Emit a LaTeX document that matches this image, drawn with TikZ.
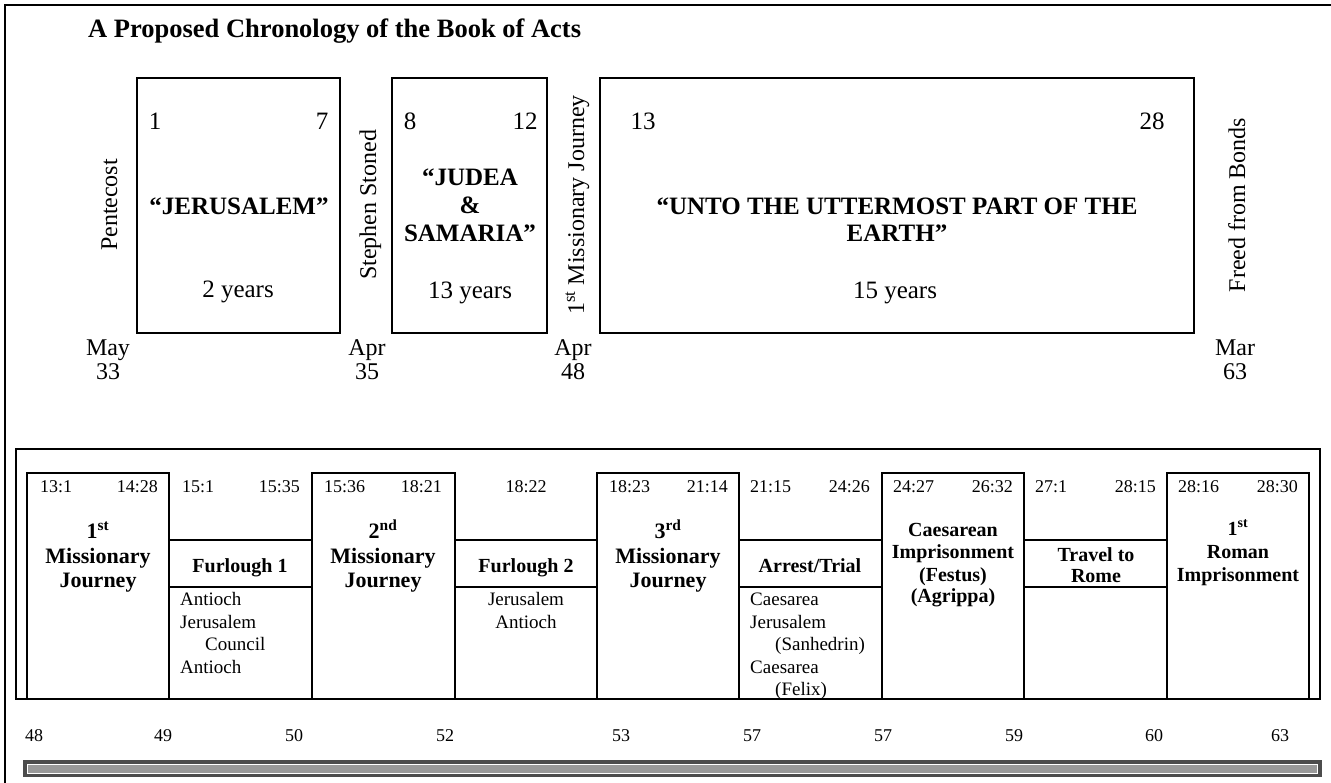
\documentclass[tikz,border=0pt]{standalone}
\usepackage{fontspec}
\setmainfont{Liberation Serif}
\begin{document}
\begin{tikzpicture}[x=1pt,y=-1pt,line join=miter,
  pageframe/.style={line width=2pt},
  bigbox/.style={draw,line width=1.8pt},
  cellbox/.style={draw,line width=1.8pt},
  septhick/.style={line width=1.8pt},
  septhin/.style={line width=1.1pt},
  title/.style={font=\bfseries\fontsize{26.5}{30}\selectfont,inner sep=0pt,anchor=base west},
  bignum/.style={font=\fontsize{25}{30}\selectfont,inner sep=0pt,anchor=base},
  bighead/.style={font=\bfseries\fontsize{25}{30}\selectfont,inner sep=0pt,anchor=base},
  side/.style={font=\fontsize{24}{28}\selectfont,inner sep=0pt,anchor=base,rotate=90},
  datelbl/.style={font=\fontsize{24}{28}\selectfont,inner sep=0pt,anchor=base},
  verse/.style={font=\fontsize{18}{22}\selectfont,inner sep=0pt},
  vleft/.style={verse,anchor=base west},
  vright/.style={verse,anchor=base east},
  vmid/.style={verse,anchor=base},
  head/.style={font=\bfseries\fontsize{20}{24}\selectfont,inner sep=0pt,anchor=base},
  mhead/.style={font=\bfseries\fontsize{22}{26}\selectfont,inner sep=0pt,anchor=base},
  place/.style={font=\fontsize{19}{23}\selectfont,inner sep=0pt,anchor=base west},
  placec/.style={font=\fontsize{19}{23}\selectfont,inner sep=0pt,anchor=base},
  year/.style={font=\fontsize{18}{22}\selectfont,inner sep=0pt,anchor=base},
]
\useasboundingbox (0,0) rectangle (1331,783);
% page frame (left and top only visible)
\draw[pageframe] (5,784) -- (5,5) -- (1332,5);
\node[title] (ttl) at (88,38) {A Proposed Chronology of the Book of Acts};

% ---- top boxes ----
\draw[bigbox] (137,78) rectangle (340,333);
\draw[bigbox] (392,78) rectangle (547,333);
\draw[bigbox] (600,78) rectangle (1194,333);

\node[bignum] (n1) at (155,130) {1};
\node[bignum] (n7) at (322,130) {7};
\node[bighead] (jer) at (239,215) {“JERUSALEM”};
\node[bignum] (y2) at (238,298) {2 years};

\node[bignum] (n8) at (410,130) {8};
\node[bignum] (n12) at (525,130) {12};
\node[bighead] (jud1) at (470,186) {“JUDEA};
\node[bighead] (jud2) at (470,214) {\&};
\node[bighead] (jud3) at (470,242) {SAMARIA”};
\node[bignum] (y13) at (470,299) {13 years};

\node[bignum] (n13) at (643,130) {13};
\node[bignum] (n28) at (1152,130) {28};
\node[bighead] (unto1) at (897,215) {“UNTO THE UTTERMOST PART OF THE};
\node[bighead] (unto2) at (897,242) {EARTH”};
\node[bignum] (y15) at (895,299) {15 years};

\node[side] (pent) at (117,205) {Pentecost};
\node[side] (steph) at (376,205) {Stephen Stoned};
\node[side] (mj1) at (584,205) {1\textsuperscript{st} Missionary Journey};
\node[side] (freed) at (1245,205) {Freed from Bonds};

\node[datelbl] (d1a) at (108,356) {May};
\node[datelbl] (d1b) at (108,380) {33};
\node[datelbl] (d2a) at (367,356) {Apr};
\node[datelbl] (d2b) at (367,380) {35};
\node[datelbl] (d3a) at (573,356) {Apr};
\node[datelbl] (d3b) at (573,380) {48};
\node[datelbl] (d4a) at (1235,356) {Mar};
\node[datelbl] (d4b) at (1235,380) {63};

% ---- bottom table ----
\draw[line width=2pt] (16,449) rectangle (1320,699);
\foreach \l/\r in {27/169,312/455,597/739,882/1024,1167/1309}
  \draw[cellbox] (\l,473) rectangle (\r,699);
\foreach \l/\r in {169/312,455/597,739/882,1024/1167}{
  \draw[septhick] (\l,540) -- (\r,540);
  \draw[septhin] (\l,587) -- (\r,587);
}

% verse ranges
\node[vleft] (v1a) at (40,492) {13:1};
\node[vright] (v1b) at (158,492) {14:28};
\node[vleft] (v2a) at (182,492) {15:1};
\node[vright] (v2b) at (300,492) {15:35};
\node[vleft] (v3a) at (324,492) {15:36};
\node[vright] (v3b) at (442,492) {18:21};
\node[vmid] (v4) at (526,492) {18:22};
\node[vleft] (v5a) at (609,492) {18:23};
\node[vright] (v5b) at (728,492) {21:14};
\node[vleft] (v6a) at (750,492) {21:15};
\node[vright] (v6b) at (870,492) {24:26};
\node[vleft] (v7a) at (893,492) {24:27};
\node[vright] (v7b) at (1013,492) {26:32};
\node[vleft] (v8a) at (1035,492) {27:1};
\node[vright] (v8b) at (1156,492) {28:15};
\node[vleft] (v9a) at (1178,492) {28:16};
\node[vright] (v9b) at (1298,492) {28:30};

% column 1
\node[mhead] (c1a) at (98,538) {1\textsuperscript{st}};
\node[mhead] (c1b) at (98,563) {Missionary};
\node[mhead] (c1c) at (98,587) {Journey};
% column 2
\node[head] (c2h) at (240,572) {Furlough 1};
\node[place] (c2a) at (180,605) {Antioch};
\node[place] (c2b) at (180,628) {Jerusalem};
\node[place] (c2c) at (205,650) {Council};
\node[place] (c2d) at (180,673) {Antioch};
% column 3
\node[mhead] (c3a) at (383,538) {2\textsuperscript{nd}};
\node[mhead] (c3b) at (383,563) {Missionary};
\node[mhead] (c3c) at (383,587) {Journey};
% column 4
\node[head] (c4h) at (526,572) {Furlough 2};
\node[placec] (c4a) at (526,605) {Jerusalem};
\node[placec] (c4b) at (526,628) {Antioch};
% column 5
\node[mhead] (c5a) at (668,538) {3\textsuperscript{rd}};
\node[mhead] (c5b) at (668,563) {Missionary};
\node[mhead] (c5c) at (668,587) {Journey};
% column 6
\node[head] (c6h) at (810,572) {Arrest/Trial};
\node[place] (c6a) at (750,605) {Caesarea};
\node[place] (c6b) at (750,628) {Jerusalem};
\node[place] (c6c) at (775,650) {(Sanhedrin)};
\node[place] (c6d) at (750,673) {Caesarea};
\node[place] (c6e) at (775,695) {(Felix)};
% column 7
\node[head] (c7a) at (953,536) {Caesarean};
\node[head] (c7b) at (953,558) {Imprisonment};
\node[head] (c7c) at (953,581) {(Festus)};
\node[head] (c7d) at (953,602) {(Agrippa)};
% column 8
\node[head] (c8a) at (1096,561) {Travel to};
\node[head] (c8b) at (1096,582) {Rome};
% column 9
\node[head] (c9a) at (1238,535) {1\textsuperscript{st}};
\node[head] (c9b) at (1238,558) {Roman};
\node[head] (c9c) at (1238,581) {Imprisonment};

% years
\node[year] (yr1) at (34,741) {48};
\node[year] (yr2) at (163,741) {49};
\node[year] (yr3) at (294,741) {50};
\node[year] (yr4) at (445,741) {52};
\node[year] (yr5) at (621,741) {53};
\node[year] (yr6) at (752,741) {57};
\node[year] (yr7) at (883,741) {57};
\node[year] (yr8) at (1014,741) {59};
\node[year] (yr9) at (1154,741) {60};
\node[year] (yr10) at (1280,741) {63};

% bottom bar
\fill[black!70] (23,760) rectangle (1322,777);
\filldraw[fill=black!40,draw=white,line width=0.8pt] (27,764) rectangle (1317,773);
\end{tikzpicture}
\end{document}
